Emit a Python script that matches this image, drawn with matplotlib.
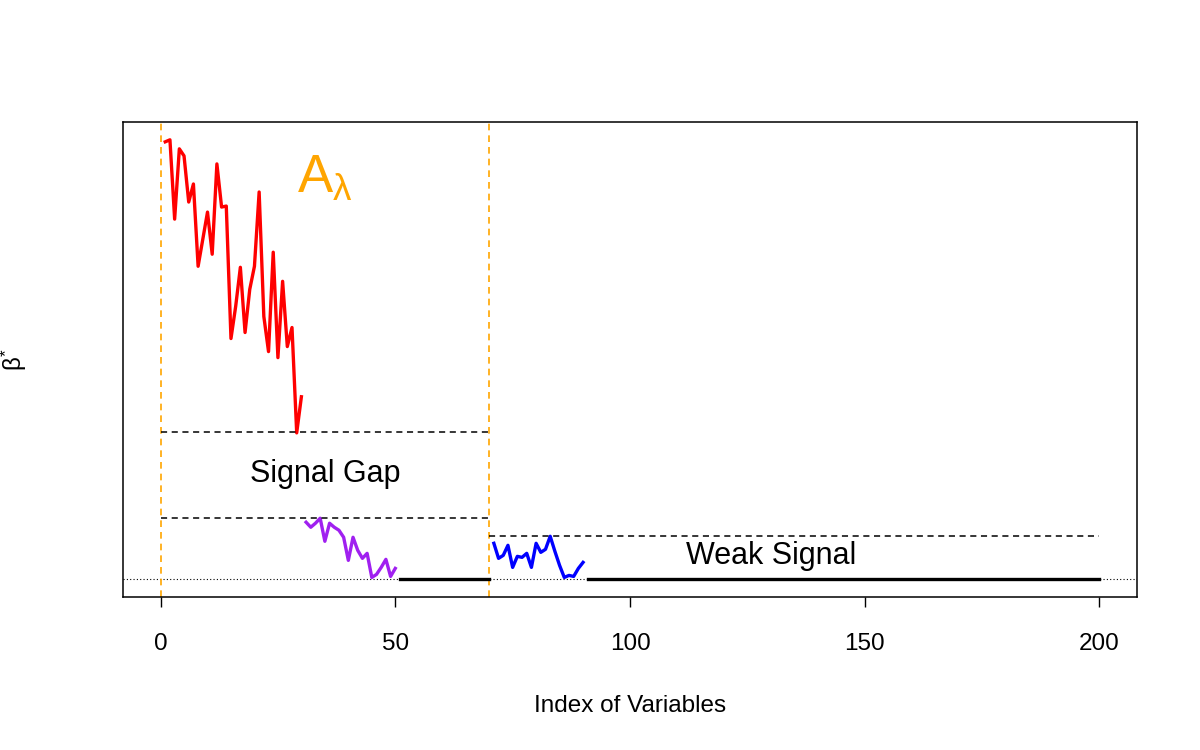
import matplotlib
matplotlib.use("Agg")
import matplotlib.pyplot as plt
import numpy as np

plt.rcParams['font.family'] = ['Liberation Sans', 'DejaVu Sans']

# beta* values
strong = [4.36, 4.38, 3.59, 4.29, 4.22, 3.76, 3.94, 3.12, 3.39, 3.66,
          3.24, 4.14, 3.71, 3.72, 2.40, 2.72, 3.11, 2.46, 2.89, 3.12,
          3.86, 2.62, 2.27, 3.26, 2.21, 2.97, 2.32, 2.51, 1.46, 1.82]
weak_in = [0.57, 0.52, 0.56, 0.61, 0.38, 0.56, 0.52, 0.49, 0.42, 0.19,
           0.42, 0.29, 0.21, 0.26, 0.02, 0.05, 0.12, 0.20, 0.03, 0.11]
weak_out = [0.36, 0.21, 0.24, 0.34, 0.12, 0.23, 0.22, 0.26, 0.12, 0.36,
            0.27, 0.30, 0.43, 0.28, 0.14, 0.02, 0.04, 0.03, 0.11, 0.17]
n_total = 200
gap_top, gap_bottom, weak_level = 1.47, 0.61, 0.43
split = 70

idx = np.arange(1, n_total + 1)
beta = np.zeros(n_total)
beta[0:30] = strong
beta[30:50] = weak_in
beta[70:90] = weak_out

fig = plt.figure(figsize=(12, 7.5), dpi=100)
ax = fig.add_axes([0.1025, 0.204, 0.845, 0.633])

ax.axhline(0, color='black', lw=0.8, ls=(0, (1, 2)))
ax.axvline(0, color='orange', lw=1.2, ls=(0, (4, 3)))
ax.axvline(split, color='orange', lw=1.2, ls=(0, (4, 3)))

ax.plot(idx[0:30], beta[0:30], color='red', lw=2.4)
ax.plot(idx[30:50], beta[30:50], color='#A020F0', lw=2.4)
ax.plot(idx[50:70], beta[50:70], color='black', lw=2.4)
ax.plot(idx[70:90], beta[70:90], color='blue', lw=2.4)
ax.plot(idx[90:], beta[90:], color='black', lw=2.4)

ax.plot([0, split], [gap_top, gap_top], color='black', lw=1.1, ls=(0, (4, 3)))
ax.plot([0, split], [gap_bottom, gap_bottom], color='black', lw=1.1, ls=(0, (4, 3)))
ax.plot([split, n_total], [weak_level, weak_level], color='black', lw=1.1, ls=(0, (4, 3)))

ax.text(35, 3.99, r'$\mathregular{A_{λ}}$', color='orange', fontsize=38,
        ha='center', va='center')
ax.text(35, 1.05, 'Signal Gap', fontsize=22, ha='center', va='center')
ax.text(130, 0.23, 'Weak Signal', fontsize=22, ha='center', va='center')

ax.set_xlim(-8, 208)
ax.set_ylim(-0.175, 4.555)
ax.set_xticks([0, 50, 100, 150, 200])
ax.set_yticks([])
ax.tick_params(axis='x', labelsize=17.5, length=7, width=1, pad=19)
for s in ax.spines.values():
    s.set_linewidth(1.1)
ax.set_xlabel('Index of Variables', fontsize=17.5, labelpad=29)
ax.set_ylabel(r'$\mathregular{β^{*}}$', fontsize=17.5, labelpad=68)

fig.savefig('out.png', dpi=100)
